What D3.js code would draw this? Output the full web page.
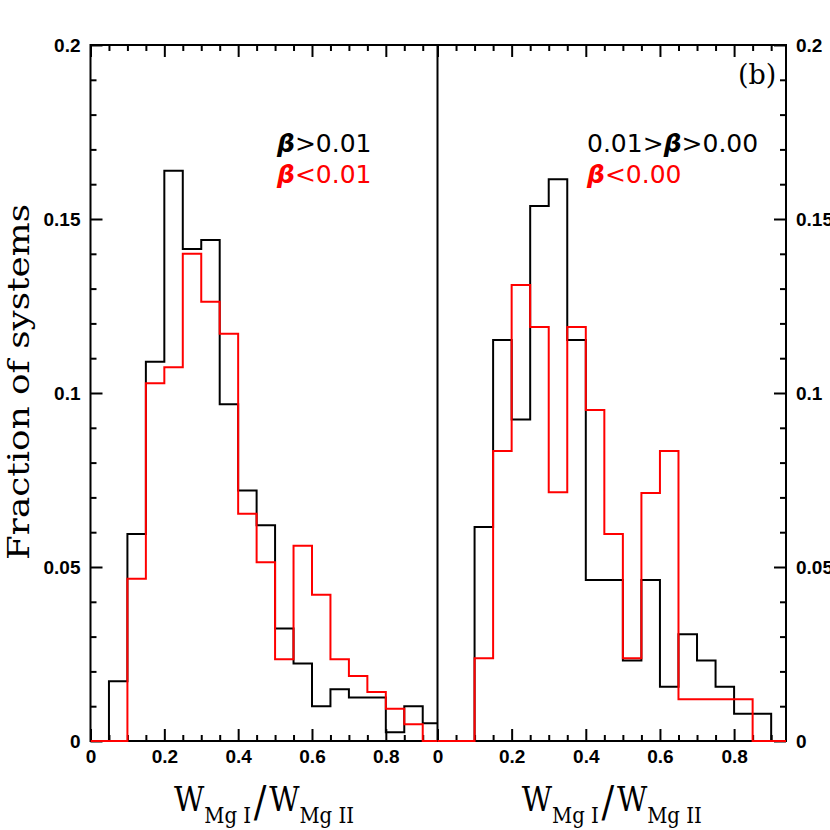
<!DOCTYPE html>
<html>
<head>
<meta charset="utf-8">
<script src="https://cdn.jsdelivr.net/npm/d3@7"></script>
<style>
  body { margin: 0; background: #fff; }
  svg { display: block; }
</style>
</head>
<body>
<svg id="chart" width="830" height="830"></svg>
<script>
// bin edges: 0.00, 0.05, ... 0.95 (bin width 0.05)
var binWidth = 0.05;
var binStarts = [0, 0.05, 0.1, 0.15, 0.2, 0.25, 0.3, 0.35, 0.4, 0.45,
                 0.5, 0.55, 0.6, 0.65, 0.7, 0.75, 0.8, 0.85, 0.9];

// left panel: beta > 0.01 (black), beta < 0.01 (red)
var leftHigh = [0, 0.0172, 0.0595, 0.109, 0.1639, 0.1414, 0.144, 0.0968, 0.072, 0.062,
                0.0323, 0.0223, 0.010, 0.0149, 0.0125, 0.0125, 0.0025, 0.010, 0.0051];
var leftLow  = [0, 0, 0.0466, 0.1028, 0.1074, 0.140, 0.1262, 0.117, 0.0653, 0.0514,
                0.0235, 0.0561, 0.042, 0.0235, 0.0187, 0.0141, 0.0093, 0.0048, 0];

// right panel: 0.01 > beta > 0.00 (black), beta < 0.00 (red)
var rightMid = [0, 0, 0.0615, 0.1152, 0.0924, 0.1537, 0.1614, 0.1152, 0.0463, 0.0463,
                0.0231, 0.0463, 0.0156, 0.0307, 0.0231, 0.0156, 0.0078, 0.0078, 0];
var rightLow = [0, 0, 0.0238, 0.0833, 0.131, 0.119, 0.0715, 0.119, 0.0951, 0.0595,
                0.0238, 0.0713, 0.0833, 0.012, 0.012, 0.012, 0.012, 0, 0];

var xMajor = [0, 0.2, 0.4, 0.6, 0.8];
var yMajor = [0, 0.05, 0.1, 0.15, 0.2];

var legendLeft  = ["\u03b2>0.01", "\u03b2<0.01"];
var legendRight = ["0.01>\u03b2>0.00", "\u03b2<0.00"];

var svg = d3.select("#chart");

var plotTop = 45, plotBottom = 741;
var y = d3.scaleLinear().domain([0, 0.2]).range([plotBottom, plotTop]);

var panels = [
    { id: "L", range: [90.5, 437.5], black: leftHigh, red: leftLow },
    { id: "R", range: [437.5, 786], black: rightMid, red: rightLow }
];

var tickFont = "'Liberation Sans', Arial, sans-serif";
var fmt = d3.format("~g");

panels.forEach(function(p) {
    p.x = d3.scaleLinear().domain([0, 0.94]).range(p.range);
});

function styleAxis(g) {
    g.select(".domain").remove();
    g.selectAll(".tick line").attr("stroke", "#000").attr("stroke-width", 2);
    g.selectAll("text").attr("font-family", tickFont).attr("font-weight", "bold")
        .attr("font-size", 19).attr("fill", "#000");
}

// x-axis ticks (bottom + top), both panels
panels.forEach(function(p) {
    var minor = d3.range(0, 0.941, 0.05).filter(function(d) {
        return !xMajor.some(function(m) { return Math.abs(m - d) < 1e-6; });
    });

    svg.append("g").attr("transform", "translate(0," + plotBottom + ")")
        .call(d3.axisBottom(p.x).tickValues(xMajor).tickSize(-12).tickPadding(9).tickFormat(fmt))
        .call(styleAxis);
    svg.append("g").attr("transform", "translate(0," + plotBottom + ")")
        .call(d3.axisBottom(p.x).tickValues(minor).tickSize(-6).tickFormat(""))
        .call(styleAxis);
    svg.append("g").attr("transform", "translate(0," + plotTop + ")")
        .call(d3.axisTop(p.x).tickValues(xMajor).tickSize(-12).tickFormat(""))
        .call(styleAxis);
    svg.append("g").attr("transform", "translate(0," + plotTop + ")")
        .call(d3.axisTop(p.x).tickValues(minor).tickSize(-6).tickFormat(""))
        .call(styleAxis);
});

// y-axis ticks: left side of left panel, right side of right panel
var yMinor = d3.range(0, 0.2001, 0.01).filter(function(d) {
    return !yMajor.some(function(m) { return Math.abs(m - d) < 1e-6; });
});
var xl = panels[0].range[0], xr = panels[1].range[1];

svg.append("g").attr("transform", "translate(" + xl + ",0)")
    .call(d3.axisLeft(y).tickValues(yMajor).tickSize(-12).tickPadding(10).tickFormat(fmt))
    .call(styleAxis);
svg.append("g").attr("transform", "translate(" + xl + ",0)")
    .call(d3.axisLeft(y).tickValues(yMinor).tickSize(-6).tickFormat(""))
    .call(styleAxis);
svg.append("g").attr("transform", "translate(" + xr + ",0)")
    .call(d3.axisRight(y).tickValues(yMajor).tickSize(-12).tickPadding(10).tickFormat(fmt))
    .call(styleAxis);
svg.append("g").attr("transform", "translate(" + xr + ",0)")
    .call(d3.axisRight(y).tickValues(yMinor).tickSize(-6).tickFormat(""))
    .call(styleAxis);

// frame and divider
svg.append("rect")
    .attr("x", xl).attr("y", plotTop)
    .attr("width", xr - xl).attr("height", plotBottom - plotTop)
    .attr("fill", "none").attr("stroke", "#000").attr("stroke-width", 2);
svg.append("line")
    .attr("x1", panels[0].range[1]).attr("x2", panels[0].range[1])
    .attr("y1", plotTop).attr("y2", plotBottom)
    .attr("stroke", "#000").attr("stroke-width", 2);

// histograms
panels.forEach(function(p) {
    svg.append("clipPath").attr("id", "clip" + p.id)
        .append("rect")
        .attr("x", p.range[0]).attr("y", 0)
        .attr("width", p.range[1] - p.range[0]).attr("height", plotBottom + 5);

    var line = d3.line()
        .x(function(d) { return p.x(d[0]); })
        .y(function(d) { return y(d[1]); })
        .curve(d3.curveStepAfter);

    function steps(vals) {
        var pts = binStarts.map(function(b, i) { return [b, vals[i]]; });
        pts.push([binStarts[binStarts.length - 1] + binWidth, 0]);
        return pts;
    }

    var g = svg.append("g").attr("clip-path", "url(#clip" + p.id + ")");
    g.append("path").attr("d", line(steps(p.black)))
        .attr("fill", "none").attr("stroke", "#000").attr("stroke-width", 2);
    g.append("path").attr("d", line(steps(p.red)))
        .attr("fill", "none").attr("stroke", "#ff0000").attr("stroke-width", 2);
});

// legends
function legendText(txt, xPos, yPos, color) {
    var t = svg.append("text").attr("x", xPos).attr("y", yPos)
        .attr("font-family", "'DejaVu Sans', sans-serif").attr("font-size", 25)
        .attr("fill", color);
    txt.split(/(\u03b2)/).forEach(function(s) {
        if (!s) return;
        var ts = t.append("tspan").text(s);
        if (s === "\u03b2") ts.attr("font-style", "italic").attr("font-weight", 600);
    });
}
legendText(legendLeft[0], 277, 152, "#000");
legendText(legendLeft[1], 277, 183, "#ff0000");
legendText(legendRight[0], 587, 152, "#000");
legendText(legendRight[1], 587, 183, "#ff0000");

svg.append("text").attr("x", 738).attr("y", 84)
    .attr("font-family", "'DejaVu Serif', serif").attr("font-size", 27)
    .text("(b)");

// y title
svg.append("text")
    .attr("transform", "translate(29,382) rotate(-90)")
    .attr("text-anchor", "middle")
    .attr("font-family", "'DejaVu Serif', serif").attr("font-size", 29)
    .attr("textLength", 356).attr("lengthAdjust", "spacingAndGlyphs")
    .text("Fraction of systems");

// x titles
panels.forEach(function(p) {
    var cx = (p.range[0] + p.range[1]) / 2;
    var t = svg.append("text").attr("x", cx).attr("y", 811)
        .attr("text-anchor", "middle")
        .attr("font-family", "'DejaVu Serif', serif").attr("font-size", 33)
        .attr("textLength", 180).attr("lengthAdjust", "spacingAndGlyphs");
    t.append("tspan").text("W");
    t.append("tspan").attr("font-size", 22).attr("dy", 12).text("Mg I");
    t.append("tspan").attr("font-size", 42).attr("dx", 3).attr("dy", -7).text("/");
    t.append("tspan").attr("dx", 3).attr("dy", -5).text("W");
    t.append("tspan").attr("font-size", 22).attr("dy", 12).text("Mg II");
});
</script>
</body>
</html>
